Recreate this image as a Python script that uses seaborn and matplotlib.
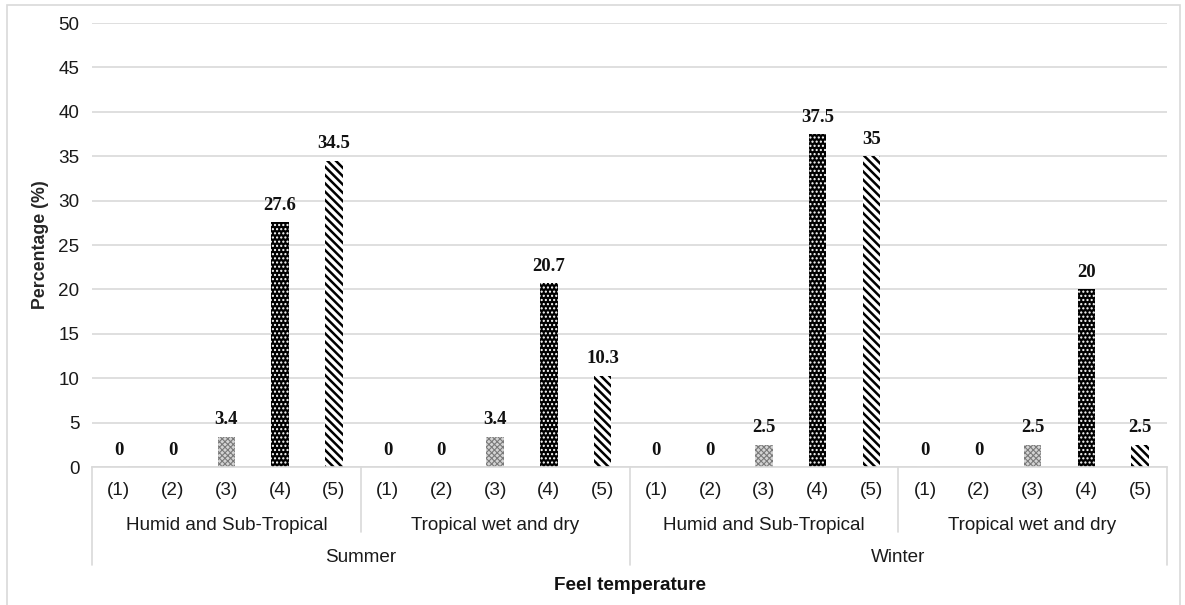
import matplotlib
matplotlib.use("Agg")
import matplotlib.pyplot as plt
import seaborn as sns
import pandas as pd
from matplotlib.patches import Rectangle

seasons = ["Summer", "Winter"]
climates = ["Humid and Sub-Tropical", "Tropical wet and dry"]
levels = ["(1)", "(2)", "(3)", "(4)", "(5)"]
summer_humid = [0, 0, 3.4, 27.6, 34.5]
summer_tropical = [0, 0, 3.4, 20.7, 10.3]
winter_humid = [0, 0, 2.5, 37.5, 35]
winter_tropical = [0, 0, 2.5, 20, 2.5]
yticks = [0, 5, 10, 15, 20, 25, 30, 35, 40, 45, 50]

series = {
    ("Summer", "Humid and Sub-Tropical"): summer_humid,
    ("Summer", "Tropical wet and dry"): summer_tropical,
    ("Winter", "Humid and Sub-Tropical"): winter_humid,
    ("Winter", "Tropical wet and dry"): winter_tropical,
}

rows = []
for s in seasons:
    for c in climates:
        for lv, v in zip(levels, series[(s, c)]):
            rows.append({"key": f"{s}|{c}|{lv}", "season": s, "climate": c,
                         "level": lv, "value": v})
df = pd.DataFrame(rows)
order = list(df["key"])

sns.set_theme(style="white")
plt.rcParams["font.family"] = ["Liberation Sans", "DejaVu Sans"]
plt.rcParams["hatch.linewidth"] = 1.8

FS = 13.6

fig = plt.figure(figsize=(11.85, 6.05), dpi=100)
ax = fig.add_axes([92 / 1185, 1 - 467 / 605, (1167 - 92) / 1185, (467 - 23) / 605])

sns.barplot(data=df, x="key", y="value", order=order, width=0.33,
            color="black", ax=ax, errorbar=None)

styles = {
    "(3)": dict(fc="#d4d4d4", ec="#7a7a7a", hatch="xxxxxx", hlw=0.8),
    "(4)": dict(fc="black", ec="white", hatch="....", hlw=1.0),
    "(5)": dict(fc="white", ec="black", hatch="\\\\\\\\", hlw=1.8),
}
for patch, lv in zip(ax.patches, df["level"]):
    if lv in styles:
        st = styles[lv]
        patch.set_facecolor(st["fc"])
        patch.set_edgecolor(st["ec"])
        patch.set_hatch(st["hatch"])
        patch.set_linewidth(0)
        if hasattr(patch, "set_hatch_linewidth"):
            patch.set_hatch_linewidth(st["hlw"])

ax.bar_label(ax.containers[0], labels=[f"{v:g}" for v in df["value"]],
             padding=6, fontsize=13.5, fontweight="bold",
             family=["Liberation Serif", "DejaVu Serif"], color="#111111")

ax.set_ylim(0, 50)
ax.set_xlim(-0.5, len(order) - 0.5)
ax.set_yticks(yticks)
ax.set_yticklabels([str(t) for t in yticks])
ax.yaxis.grid(True, color="#d9d9d9", linewidth=1.2)
ax.set_axisbelow(True)
ax.set_xticks(range(len(order)))
ax.set_xticklabels(list(df["level"]))
ax.tick_params(axis="both", length=0, labelsize=FS, labelcolor="#1a1a1a")
ax.tick_params(axis="y", pad=9)
ax.tick_params(axis="x", pad=11)
for sp in ["left", "right", "top"]:
    ax.spines[sp].set_visible(False)
ax.spines["bottom"].set_color("#d9d9d9")
ax.spines["bottom"].set_linewidth(1.2)
ax.set_xlabel("")
ax.set_ylabel("Percentage (%)", fontsize=12.8, fontweight="bold", labelpad=7)

trans = ax.get_xaxis_transform()
h = 444.0
y_group = -(525 - 467) / h
y_season = -(558 - 467) / h
y_title = -(586 - 467) / h
y_sep_short = -(532 - 467) / h
y_sep_long = -(565 - 467) / h

n = len(levels)
for gi, (s, c) in enumerate([(s, c) for s in seasons for c in climates]):
    center = gi * n + (n - 1) / 2
    ax.text(center, y_group, c, transform=trans, ha="center", va="center",
            fontsize=FS, color="#1a1a1a")
for si, s in enumerate(seasons):
    center = si * 2 * n + (2 * n - 1) / 2
    ax.text(center, y_season, s, transform=trans, ha="center", va="center",
            fontsize=FS, color="#1a1a1a")
ax.text((len(order) - 1) / 2, y_title, "Feel temperature", transform=trans,
        ha="center", va="center", fontsize=FS, fontweight="bold", color="#111111")

for b in range(0, len(order) + 1, n):
    xb = b - 0.5
    yend = y_sep_long if b % (2 * n) == 0 else y_sep_short
    ax.plot([xb, xb], [0, yend], transform=trans, color="#d9d9d9",
            linewidth=1.2, clip_on=False)

fig.add_artist(Rectangle((7 / 1185, -0.01), (1180 - 7) / 1185, 1 - 5 / 605 + 0.01,
                         transform=fig.transFigure, fill=False,
                         edgecolor="#d9d9d9", linewidth=1.2))

fig.savefig("out.png", dpi=100)
